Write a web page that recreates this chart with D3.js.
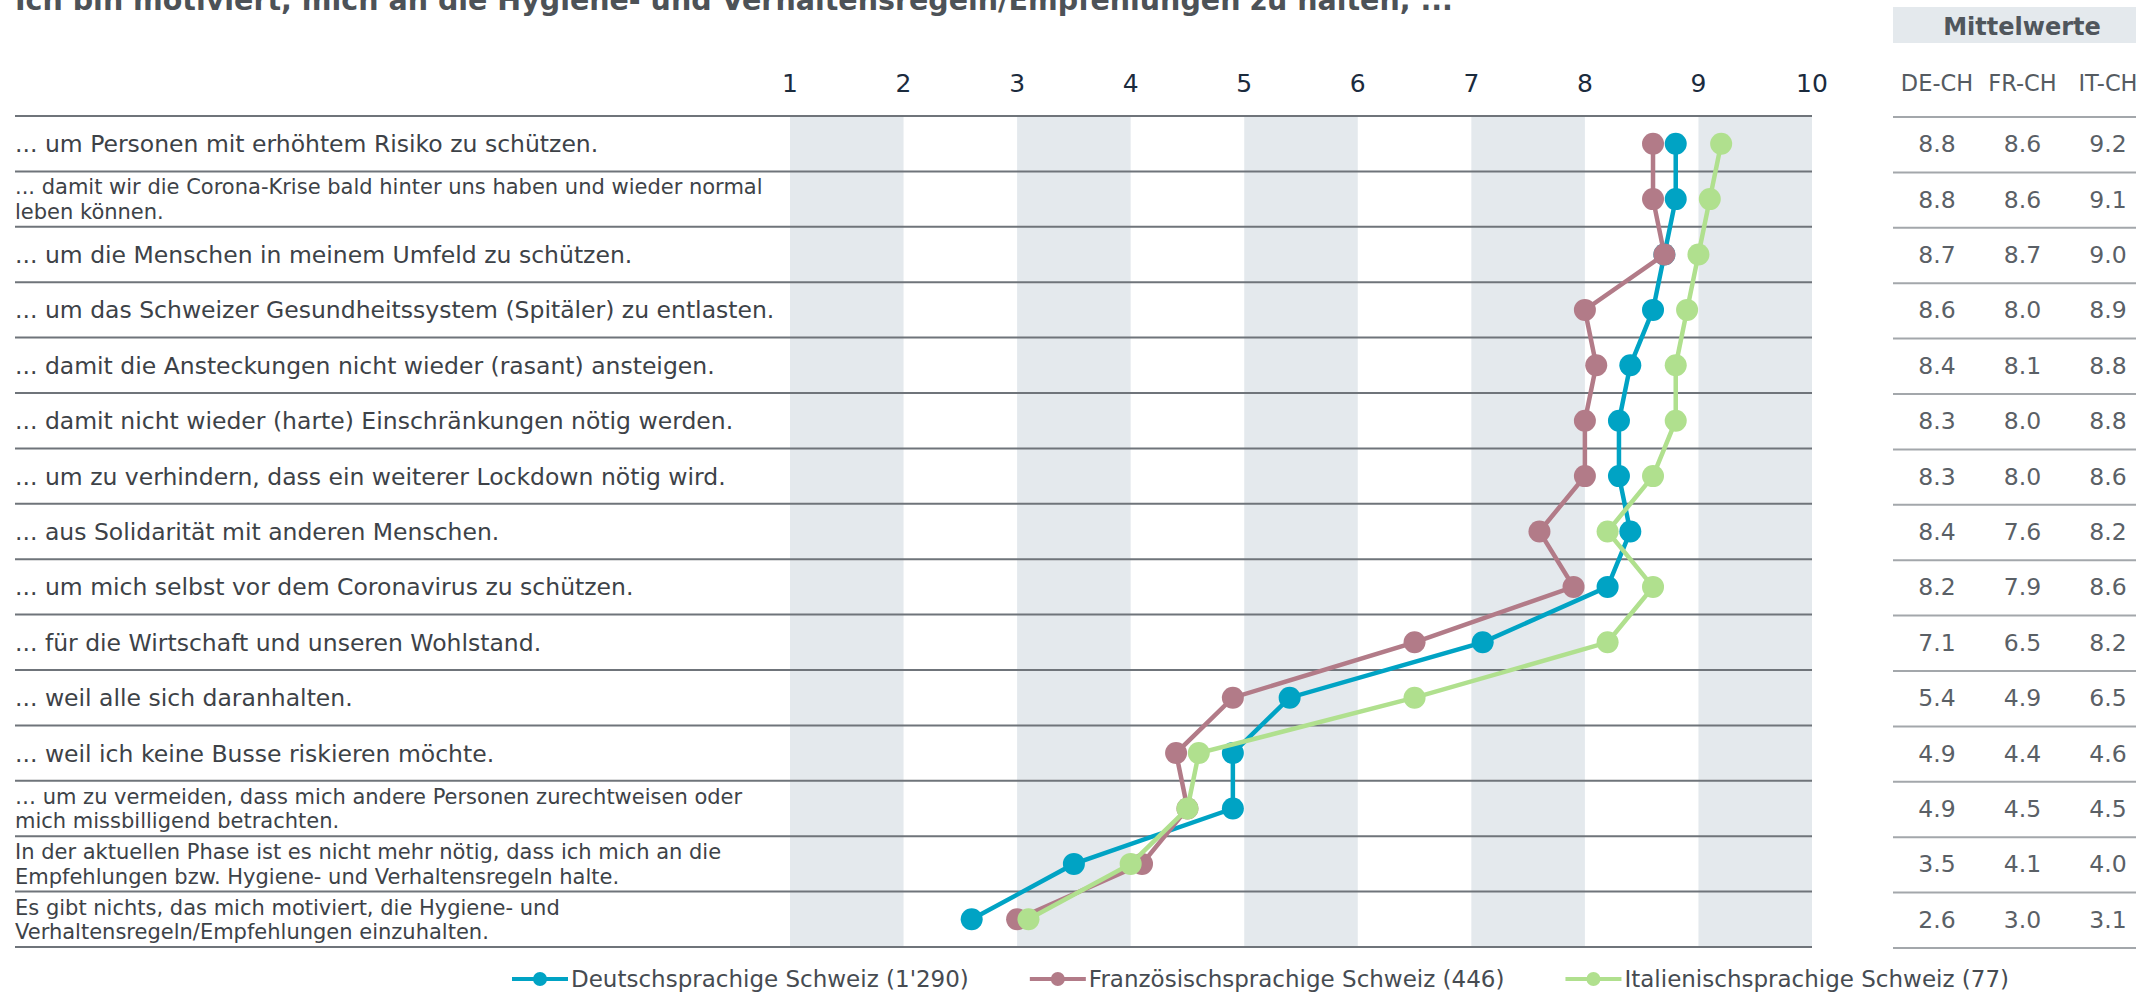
<!DOCTYPE html>
<html>
<head>
<meta charset="utf-8">
<script src="https://cdn.jsdelivr.net/npm/d3@7"></script>
<style>
  body { margin: 0; background: #fff; }
  svg { display: block; }
  text { font-family: "DejaVu Sans", Verdana, sans-serif; }
</style>
</head>
<body>
<div id="chart"></div>
<script>
// statements (| marks a line break in the label)
var items = [
	"... um Personen mit erhöhtem Risiko zu schützen.",
	"... damit wir die Corona-Krise bald hinter uns haben und wieder normal|leben können.",
	"... um die Menschen in meinem Umfeld zu schützen.",
	"... um das Schweizer Gesundheitssystem (Spitäler) zu entlasten.",
	"... damit die Ansteckungen nicht wieder (rasant) ansteigen.",
	"... damit nicht wieder (harte) Einschränkungen nötig werden.",
	"... um zu verhindern, dass ein weiterer Lockdown nötig wird.",
	"... aus Solidarität mit anderen Menschen.",
	"... um mich selbst vor dem Coronavirus zu schützen.",
	"... für die Wirtschaft und unseren Wohlstand.",
	"... weil alle sich daranhalten.",
	"... weil ich keine Busse riskieren möchte.",
	"… um zu vermeiden, dass mich andere Personen zurechtweisen oder|mich missbilligend betrachten.",
	"In der aktuellen Phase ist es nicht mehr nötig, dass ich mich an die|Empfehlungen bzw. Hygiene- und Verhaltensregeln halte.",
	"Es gibt nichts, das mich motiviert, die Hygiene- und|Verhaltensregeln/Empfehlungen einzuhalten."
]

var deCH = [8.8, 8.8, 8.7, 8.6, 8.4, 8.3, 8.3, 8.4, 8.2, 7.1, 5.4, 4.9, 4.9, 3.5, 2.6]
var frCH = [8.6, 8.6, 8.7, 8.0, 8.1, 8.0, 8.0, 7.6, 7.9, 6.5, 4.9, 4.4, 4.5, 4.1, 3.0]
var itCH = [9.2, 9.1, 9.0, 8.9, 8.8, 8.8, 8.6, 8.2, 8.6, 8.2, 6.5, 4.6, 4.5, 4.0, 3.1]

var columns = ["DE-CH", "FR-CH", "IT-CH"]
var seriesNames = ["Deutschsprachige Schweiz (1'290)", "Französischsprachige Schweiz (446)", "Italienischsprachige Schweiz (77)"]
var seriesColors = ["#00a3c4", "#b27b88", "#b0e08e"]
var ticks = [1, 2, 3, 4, 5, 6, 7, 8, 9, 10]
var shaded = [1, 3, 5, 7, 9]

var title = "Ich bin motiviert, mich an die Hygiene- und Verhaltensregeln/Empfehlungen zu halten, ..."

var width = 2136
var height = 996
var series = [deCH, frCH, itCH]

var svg = d3.select("#chart")
	.append("svg")
	.attr("width", width)
	.attr("height", height);

var x = d3.scaleLinear().domain([1, 10]).range([790, 1812]);
var y = d3.scaleBand().domain(d3.range(items.length)).range([116, 947]);
var col = d3.scalePoint().domain(columns).range([1937, 2108]);

// title (the source has it cut at the top edge)
svg.append("text")
	.attr("x", 15)
	.attr("y", 10)
	.style("font-weight", "bold")
	.style("font-size", "28.5px")
	.style("fill", "#4d5257")
	.text(title);

// shaded columns
svg.append("g").selectAll("rect")
	.data(shaded)
	.enter().append("rect")
	.attr("x", function (d) { return x(d); })
	.attr("y", y.range()[0])
	.attr("width", function (d) { return x(d + 1) - x(d); })
	.attr("height", y.range()[1] - y.range()[0])
	.style("fill", "#e4e9ed");

// scale labels on top
svg.append("g").selectAll("text")
	.data(ticks)
	.enter().append("text")
	.attr("x", function (d) { return x(d); })
	.attr("y", 92)
	.attr("text-anchor", "middle")
	.style("font-size", "25px")
	.style("fill", "#1b2b3d")
	.text(function (d) { return d; });

// row separators
var rowLines = d3.range(items.length + 1).map(function (i) { return i < items.length ? y(i) : y.range()[1]; });
svg.append("g").selectAll("line")
	.data(rowLines)
	.enter().append("line")
	.attr("x1", 15)
	.attr("x2", x(10))
	.attr("y1", function (d) { return d; })
	.attr("y2", function (d) { return d; })
	.style("stroke", "#6f747a")
	.style("stroke-width", 2);

// row labels
var labels = svg.append("g").selectAll("text")
	.data(items)
	.enter().append("text")
	.attr("x", 15)
	.style("fill", "#3d4247");

labels.each(function (d, i) {
	var parts = d.split("|");
	var cy = y(i) + y.bandwidth() / 2;
	var el = d3.select(this);
	if (parts.length == 1) {
		el.attr("y", cy).attr("dy", "0.36em").style("font-size", "23.5px").text(parts[0]);
	} else {
		el.style("font-size", "21px");
		parts.forEach(function (p, j) {
			el.append("tspan")
				.attr("x", 15)
				.attr("y", cy + (j - 0.5) * 24.5)
				.attr("dy", "0.36em")
				.text(p);
		});
	}
});

// series lines and dots
var line = d3.line()
	.x(function (d) { return x(d); })
	.y(function (d, i) { return y(i) + y.bandwidth() / 2; });

series.forEach(function (vals, s) {
	var g = svg.append("g");
	g.append("path")
		.datum(vals)
		.attr("d", line)
		.style("fill", "none")
		.style("stroke", seriesColors[s])
		.style("stroke-width", 4.5);
	g.selectAll("circle")
		.data(vals)
		.enter().append("circle")
		.attr("cx", function (d) { return x(d); })
		.attr("cy", function (d, i) { return y(i) + y.bandwidth() / 2; })
		.attr("r", 11)
		.style("fill", seriesColors[s]);
});

// table of means on the right
svg.append("rect")
	.attr("x", 1893)
	.attr("y", 7)
	.attr("width", width - 1893)
	.attr("height", 36)
	.style("fill", "#e4e9ed");

svg.append("text")
	.attr("x", 2022)
	.attr("y", 35)
	.attr("text-anchor", "middle")
	.style("font-weight", "bold")
	.style("font-size", "24px")
	.style("fill", "#50565c")
	.text("Mittelwerte");

svg.append("g").selectAll("text")
	.data(columns)
	.enter().append("text")
	.attr("x", function (d) { return col(d); })
	.attr("y", 91)
	.attr("text-anchor", "middle")
	.style("font-size", "22.5px")
	.style("fill", "#555b61")
	.text(function (d) { return d; });

svg.append("g").selectAll("line")
	.data(rowLines)
	.enter().append("line")
	.attr("x1", 1893)
	.attr("x2", width)
	.attr("y1", function (d) { return d + 1; })
	.attr("y2", function (d) { return d + 1; })
	.style("stroke", "#a3a7ab")
	.style("stroke-width", 2);

columns.forEach(function (c, s) {
	svg.append("g").selectAll("text")
		.data(series[s])
		.enter().append("text")
		.attr("x", col(c))
		.attr("y", function (d, i) { return y(i) + y.bandwidth() / 2; })
		.attr("dy", "0.36em")
		.attr("text-anchor", "middle")
		.style("font-size", "23.5px")
		.style("fill", "#5a6066")
		.text(function (d) { return d.toFixed(1); });
});

// legend
var legend = svg.append("g").attr("transform", "translate(512,979)");
var lx = 0;
seriesNames.forEach(function (name, s) {
	var item = legend.append("g").attr("transform", "translate(" + lx + ",0)");
	item.append("line")
		.attr("x1", 0).attr("x2", 56)
		.style("stroke", seriesColors[s])
		.style("stroke-width", 4);
	item.append("circle")
		.attr("cx", 28).attr("r", 7)
		.style("fill", seriesColors[s]);
	var t = item.append("text")
		.attr("x", 59)
		.attr("dy", "0.36em")
		.style("font-size", "23px")
		.style("fill", "#464b51")
		.text(name);
	lx += 59 + t.node().getComputedTextLength() + 61;
});
</script>
</body>
</html>
